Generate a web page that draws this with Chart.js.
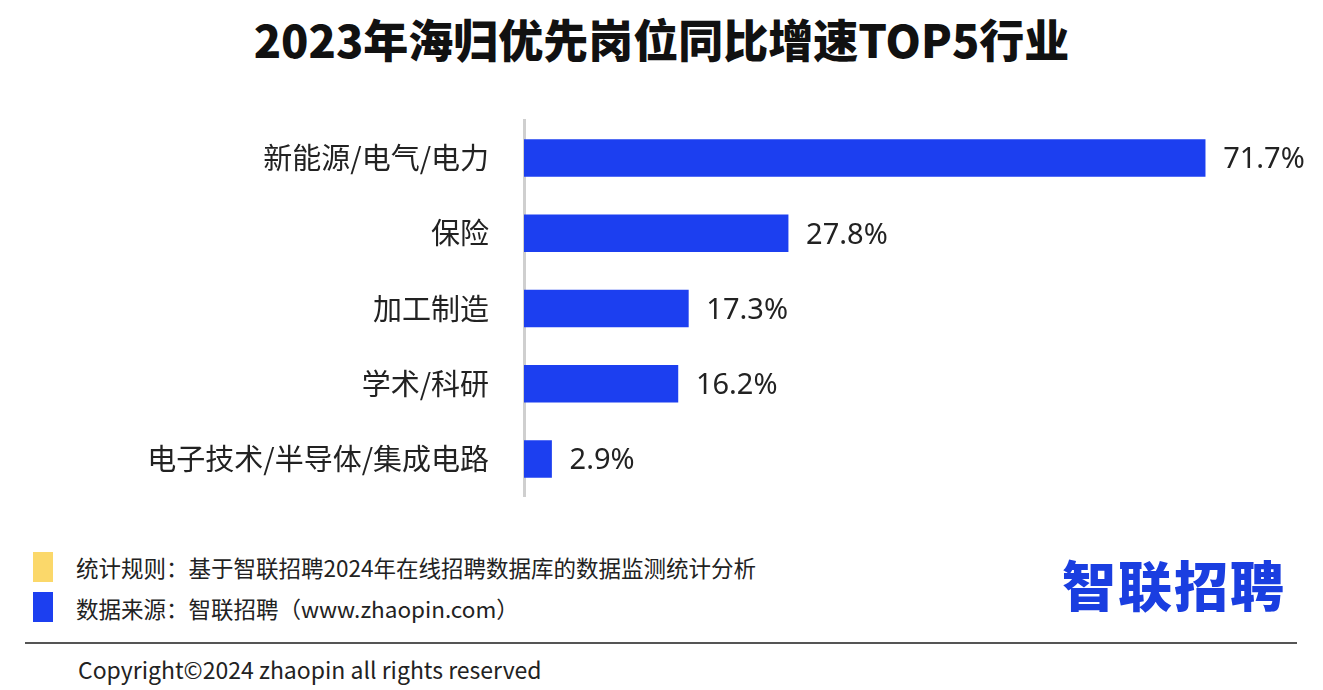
<!DOCTYPE html>
<html lang="zh">
<head>
<meta charset="UTF-8">
<title>2023年海归优先岗位同比增速TOP5行业</title>
<script src="https://cdn.jsdelivr.net/npm/chart.js"></script>
<style>
  body { margin: 0; width: 1323px; height: 690px; background: #fff; position: relative; overflow: hidden;
         font-family: "Noto Sans CJK SC", "Noto Sans", sans-serif; color: #111; }
  h1 { position: absolute; top: 6px; left: 0; width: 1323px; margin: 0; text-align: center;
       font-size: 45px; font-weight: 900; letter-spacing: 0; z-index: 2; }
  #chart { position: absolute; left: 0; top: 76px; }
  .note { position: absolute; left: 76px; font-size: 22.5px; color: #222; }
  .sw { position: absolute; left: 33px; width: 20px; height: 30px; }
  .logo { position: absolute; left: 1062px; top: 544px; font-size: 54px; font-weight: 900; color: #1a3ee0; letter-spacing: 2px; }
  .rule { position: absolute; left: 25px; top: 642px; width: 1272px; height: 2px; background: #555; }
  .copy { position: absolute; left: 78px; top: 652px; font-size: 23px; color: #222; }
</style>
</head>
<body>
<h1>2023年海归优先岗位同比增速TOP5行业</h1>
<canvas id="chart" width="1323" height="465"></canvas>
<div class="sw" style="top:552px;background:#fbd86a"></div>
<div class="note" style="top:551px">统计规则：基于智联招聘2024年在线招聘数据库的数据监测统计分析</div>
<div class="sw" style="top:592px;background:#1c3ff0"></div>
<div class="note" style="top:592px">数据来源：智联招聘（www.zhaopin.com）</div>
<div class="logo">智联招聘</div>
<div class="rule"></div>
<div class="copy">Copyright©2024 zhaopin all rights reserved</div>
<script>
const categories = ['新能源/电气/电力', '保险', '加工制造', '学术/科研', '电子技术/半导体/集成电路'];
const growth = [71.7, 27.8, 17.3, 16.2, 2.9];

const valueLabels = {
  id: 'valueLabels',
  afterDatasetsDraw(chart) {
    const ctx = chart.ctx;
    ctx.save();
    ctx.font = '29px "Noto Sans", sans-serif';
    ctx.fillStyle = '#222';
    ctx.textBaseline = 'middle';
    chart.getDatasetMeta(0).data.forEach((bar, i) => {
      ctx.fillText(growth[i].toFixed(1) + '%', bar.x + 18, bar.y + 2);
    });
    ctx.restore();
  }
};

new Chart(document.getElementById('chart'), {
  type: 'bar',
  data: {
    labels: categories,
    datasets: [{ data: growth, backgroundColor: '#1c3ff0', barThickness: 37 }]
  },
  options: {
    indexAxis: 'y',
    responsive: false,
    animation: false,
    layout: { padding: { right: 39 } },
    plugins: { legend: { display: false }, tooltip: { enabled: false } },
    scales: {
      x: { min: 0, max: 80, display: false },
      y: {
        grid: { display: false },
        border: { display: true, color: '#cfcfcf', width: 3 },
        ticks: { color: '#222', font: { size: 29, family: '"Noto Sans CJK SC", sans-serif' }, padding: 27 },
        afterFit(axis) { axis.width = 524; }
      }
    }
  },
  plugins: [valueLabels]
});
</script>
</body>
</html>
